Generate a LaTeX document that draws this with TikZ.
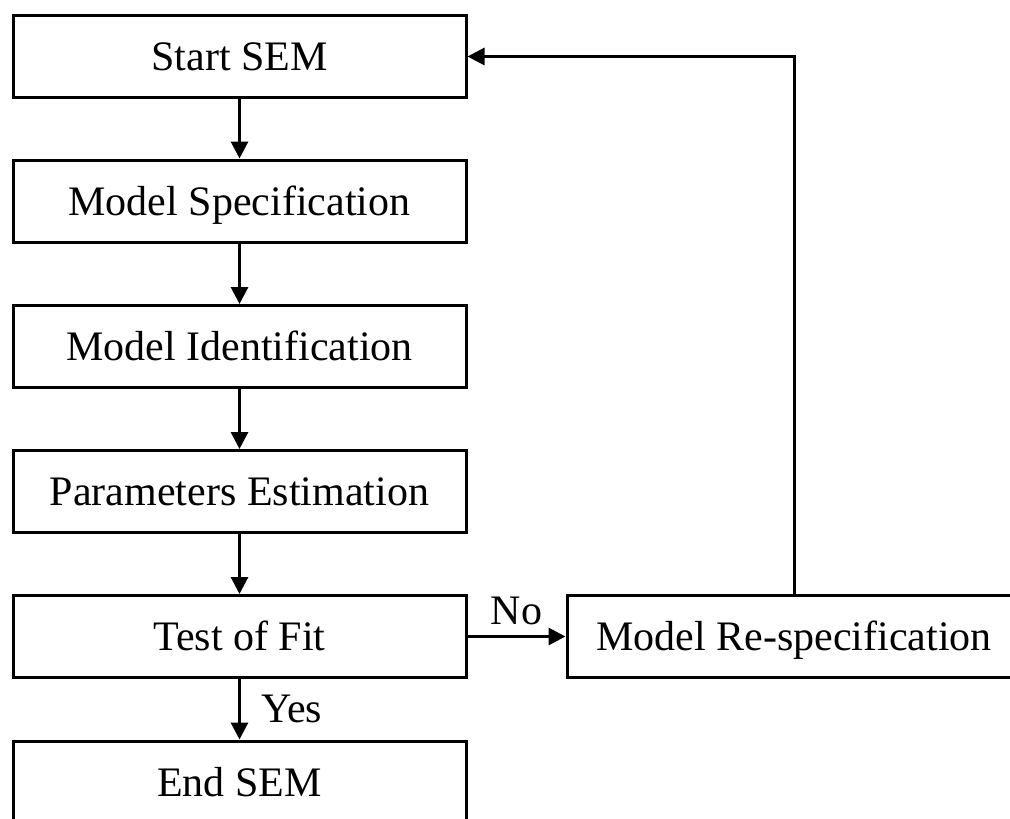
\documentclass[tikz,border=0pt]{standalone}
\usepackage{fontspec}
\setmainfont{Liberation Serif}
\usetikzlibrary{arrows.meta}
\begin{document}
\begin{tikzpicture}[x=1pt,y=-1pt,
  stage/.style={draw, line width=3pt, minimum width=453pt, minimum height=82pt,
    inner sep=0pt, text height=28pt, text depth=0pt,
    font=\fontsize{42}{50}\selectfont},
  wide/.style={stage, minimum width=454pt},
  lbl/.style={inner sep=0pt, font=\fontsize{42}{50}\selectfont},
  flow/.style={line width=3pt, -{Triangle[length=17pt,width=17pt]}}]
  \clip (0,0) rectangle (1010,819);
  \fill[white] (0,0) rectangle (1010,819);
  % main column of stages
  \node[stage] (start) at (239.5,56.5) {Start SEM};
  \node[stage] (spec)  at (239.5,201)  {Model Specification};
  \node[stage] (ident) at (239.5,346.5) {Model Identification};
  \node[stage] (param) at (239.5,491.5) {Parameters Estimation};
  \node[stage] (test)  at (239.5,636.5) {Test of Fit};
  \node[stage] (end)   at (239.5,782)  {End SEM};
  % side branch
  \node[wide] (respec) at (794,636.5) {Model Re-specification};
  % connectors
  \draw[flow] (start) -- (spec);
  \draw[flow] (spec) -- (ident);
  \draw[flow] (ident) -- (param);
  \draw[flow] (param) -- (test);
  \draw[flow] (test) -- node[lbl, midway, anchor=base west, xshift=20pt, yshift=-13pt] (yes) {Yes} (end);
  \draw[flow] (test) -- node[lbl, midway, anchor=base, yshift=12pt] (no) {No} (respec);
  \draw[flow] (respec.north) |- (start.east);
\end{tikzpicture}
\end{document}
